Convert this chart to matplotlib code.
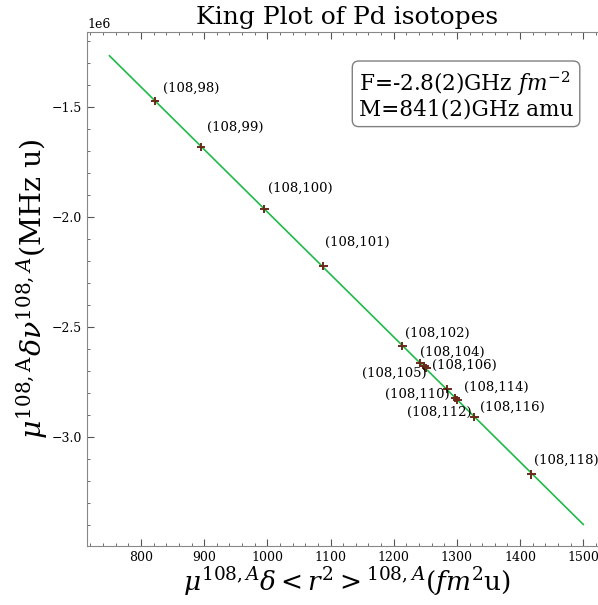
import numpy as np
import matplotlib

matplotlib.use("agg")
import matplotlib.pyplot as plt
from matplotlib.ticker import AutoMinorLocator

plt.rcParams["font.family"] = "DejaVu Serif"
plt.rcParams["mathtext.fontset"] = "dejavuserif"

# isotope pairs and modified King plot coordinates
pairs = ["(108,98)", "(108,99)", "(108,100)", "(108,101)", "(108,102)",
         "(108,104)", "(108,105)", "(108,106)", "(108,110)", "(108,112)",
         "(108,114)", "(108,116)", "(108,118)"]
mod_r2 = [822.2, 895.0, 994.8, 1088.3, 1213.4, 1241.9, 1248.2, 1251.4,
          1284.6, 1297.3, 1300.5, 1327.4, 1417.7]
mod_nu = [-1.4727e6, -1.6818e6, -1.9636e6, -2.2227e6, -2.5864e6, -2.6636e6,
          -2.6773e6, -2.6864e6, -2.7818e6, -2.8227e6, -2.8318e6, -2.9091e6,
          -3.1682e6]

# label offsets in points, and alignment
offsets = [(6, 9), (4, 14), (3, 15), (1, 17), (2, 9), (0, 8), (2, -5),
           (4, 2), (2, -4), (12, -10), (5, 9), (4, 7), (2, 10)]
aligns = ["left", "left", "left", "left", "left", "left", "right",
          "left", "right", "right", "left", "left", "left"]

fit_x = np.linspace(750, 1500, 50)
F, M = np.polyfit(mod_r2, mod_nu, 1)

fig = plt.figure(figsize=(5.98, 6.05), dpi=100)
ax = fig.add_axes([0.1455, 0.0975, 0.869, 0.8496])

ax.plot(fit_x, F * fit_x + M, color="#1fba4a", lw=1.2, zorder=1)
ax.errorbar(mod_r2, mod_nu, xerr=7, yerr=2.0e4, fmt="none",
            ecolor="#6b2a1a", elinewidth=1.4, zorder=2)

for name, x, y, off, ha in zip(pairs, mod_r2, mod_nu, offsets, aligns):
    ax.annotate(name, (x, y), xytext=off, textcoords="offset points",
                ha=ha, va="center", fontsize=9.5)

ax.text(0.523, 0.927, "F=-2.8(2)GHz $fm^{-2}$\nM=841(2)GHz amu",
        transform=ax.transAxes, ha="left", va="top", fontsize=15.6,
        linespacing=1.0,
        bbox=dict(boxstyle="round,pad=0.3", fc="white", ec="gray"))

ax.set_xlim(714.5, 1537)
ax.set_ylim(-3.495e6, -1.159e6)

ax.set_title("King Plot of Pd isotopes", fontsize=18)
ax.set_xlabel(r"$\mu^{108,A}\delta<r^2>^{108,A}(fm^2$u)", fontsize=19,
              labelpad=1)
ax.set_ylabel(r"$\mu^{108,\mathrm{A}}\delta\nu^{108,A}$(MHz u)", fontsize=20.5,
              labelpad=1)

ax.xaxis.set_minor_locator(AutoMinorLocator())
ax.yaxis.set_minor_locator(AutoMinorLocator())
ax.tick_params(which="both", direction="in", top=True, right=True,
               labelsize=9, color="#555555")
ax.tick_params(which="major", length=5)
ax.tick_params(which="minor", length=2.5)
ax.yaxis.get_offset_text().set_fontsize(9)
for s in ax.spines.values():
    s.set_color("#888888")

fig.savefig("out.png", dpi=100)
